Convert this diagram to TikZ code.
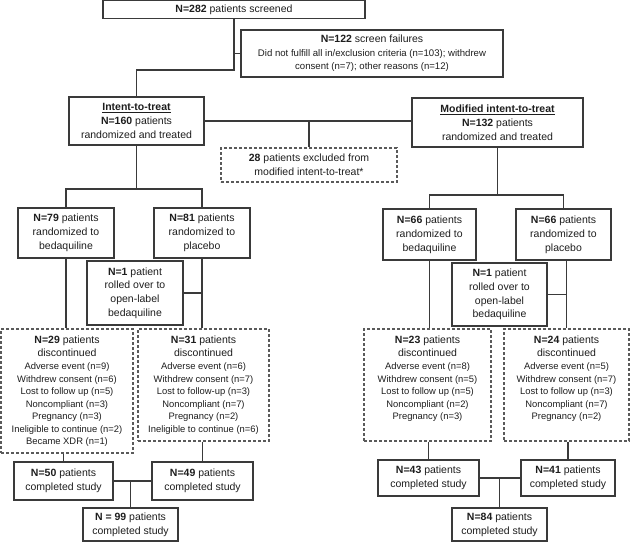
\documentclass[tikz,border=0pt]{standalone}
\usepackage{fontspec}
\setmainfont{Liberation Sans}
\definecolor{linec}{HTML}{3A3A3A}
\definecolor{dashc}{HTML}{5A5A5A}
\definecolor{txt}{HTML}{1E1E1E}
\newcommand\mainsz{\fontsize{10.5}{13.8}\selectfont}
\newcommand\smallsz{\fontsize{9.4}{12.5}\selectfont}
\newcommand\detsz{\fontsize{9.6}{13.5}\selectfont}
\tikzset{
 sz/.style 2 args={minimum width=#1, minimum height=#2},
 box/.style={draw=linec, line width=1.1pt, fill=white, align=center, inner sep=0pt, font=\mainsz, text=txt},
 dbox/.style={draw=dashc, line width=1.1pt, dash pattern=on 3pt off 2pt, fill=white, inner sep=0pt, align=center, font=\mainsz, text=txt},
 tx/.style={align=center, inner sep=0pt, font=\smallsz, text=txt, anchor=north},
 conn/.style={draw=linec, line width=1.1pt},
}
\begin{document}
\begin{tikzpicture}[x=1pt,y=-1pt]
\fill[white] (0,0) rectangle (630,542);
\useasboundingbox (0,0) rectangle (630,542);

% top
\node[box, sz={262pt}{18pt}] (top) at (234,9.5) {\textbf{N=282} patients screened};
\node[box, sz={262pt}{47pt}, font=\detsz] (scr) at (372,53.5) {\mainsz\textbf{N=122} screen failures\\ Did not fulfill all in/exclusion criteria (n=103); withdrew\\ consent (n=7); other reasons (n=12)};
\node[box, sz={135pt}{48pt}] (itt) at (136.5,121) {\underline{\textbf{Intent-to-treat}}\\ \textbf{N=160} patients\\ randomized and treated};
\node[box, sz={171pt}{49pt}] (mitt) at (497.5,122.5) {\underline{\textbf{Modified intent-to-treat}}\\ \textbf{N=132} patients\\ randomized and treated};
\node[dbox, sz={176pt}{34pt}] (excl) at (309,165) {\textbf{28} patients excluded from\\ modified intent-to-treat*};

% left arm
\node[box, sz={96pt}{50pt}] (b79) at (66,233) {\textbf{N=79} patients\\ randomized to\\ bedaquiline};
\node[box, sz={96pt}{50pt}] (p81) at (202,233) {\textbf{N=81} patients\\ randomized to\\ placebo};
\node[box, sz={96pt}{64pt}] (r1L) at (135,293) {\textbf{N=1} patient\\ rolled over to\\ open-label\\ bedaquiline};
\node[dbox, sz={132pt}{124pt}] (d29) at (67,391) {};
\node[tx] (t29) at ([yshift=-7pt]d29.north) {\mainsz\textbf{N=29} patients\\[1pt] \mainsz discontinued\\[0.5pt] Adverse event (n=9)\\ Withdrew consent (n=6)\\ Lost to follow up (n=5)\\ Noncompliant (n=3)\\ Pregnancy (n=3)\\ Ineligible to continue (n=2)\\ Became XDR (n=1)};
\node[dbox, sz={131pt}{112pt}] (d31) at (203.5,385) {};
\node[tx] (t31) at ([yshift=-7pt]d31.north) {\mainsz\textbf{N=31} patients\\[1pt] \mainsz discontinued\\[0.5pt] Adverse event (n=6)\\ Withdrew consent (n=7)\\ Lost to follow-up (n=3)\\ Noncompliant (n=7)\\ Pregnancy (n=2)\\ Ineligible to continue (n=6)};
\node[box, sz={99pt}{38pt}] (c50) at (63.5,481) {\textbf{N=50} patients\\ completed study};
\node[box, sz={101pt}{38pt}] (c49) at (202.5,481) {\textbf{N=49} patients\\ completed study};
\node[box, sz={95pt}{33pt}] (c99) at (130.5,524.5) {\textbf{N = 99} patients\\ completed study};

% right arm
\node[box, sz={93pt}{51pt}] (b66) at (429.5,234.5) {\textbf{N=66} patients\\ randomized to\\ bedaquiline};
\node[box, sz={95pt}{51pt}] (p66) at (563.5,234.5) {\textbf{N=66} patients\\ randomized to\\ placebo};
\node[box, sz={95pt}{63pt}] (r1R) at (499.5,294.5) {\textbf{N=1} patient\\ rolled over to\\ open-label\\ bedaquiline};
\node[dbox, sz={127pt}{112pt}] (d23) at (427.5,385) {};
\node[tx] (t23) at ([yshift=-7pt]d23.north) {\mainsz\textbf{N=23} patients\\[1pt] \mainsz discontinued\\[0.5pt] Adverse event (n=8)\\ Withdrew consent (n=5)\\ Lost to follow up (n=5)\\ Noncompliant (n=2)\\ Pregnancy (n=3)};
\node[dbox, sz={125pt}{112pt}] (d24) at (566.5,385) {};
\node[tx] (t24) at ([yshift=-7pt]d24.north) {\mainsz\textbf{N=24} patients\\[1pt] \mainsz discontinued\\[0.5pt] Adverse event (n=5)\\ Withdrew consent (n=7)\\ Lost to follow up (n=3)\\ Noncompliant (n=7)\\ Pregnancy (n=2)};
\node[box, sz={101pt}{36pt}] (c43) at (428.5,478) {\textbf{N=43} patients\\ completed study};
\node[box, sz={94pt}{36pt}] (c41) at (568,478) {\textbf{N=41} patients\\ completed study};
\node[box, sz={95pt}{33pt}] (c84) at (499.5,524.5) {\textbf{N=84} patients\\ completed study};

% connectors top
\draw[conn] (top.south) |- (itt.north |- 0,70) -- (itt.north);
\draw[conn] (top.south |- scr.west) -- (scr.west);
\draw[conn] (itt.east) -- (itt.east -| mitt.west);
\draw[conn] (excl.north |- itt.east) -- (excl.north);

% connectors left
\coordinate (lbr) at (136.5,189);
\draw[conn] (itt.south) -- (lbr);
\draw[conn] (b79.north) |- (lbr) -| (p81.north);
\draw[conn] (b79.south) -- (b79.south |- d29.north);
\draw[conn] (p81.south) -- (p81.south |- d31.north);
\draw[conn] (r1L.east) -- (r1L.east -| p81.south);
\draw[conn] (c50.north |- d29.south) -- (c50.north);
\draw[conn] (c49.north |- d31.south) -- (c49.north);
\draw[conn] (c50.east) -- (c49.west);
\draw[conn] (c99.north |- c50.east) -- (c99.north);

% connectors right
\coordinate (rbr) at (497.5,195);
\draw[conn] (mitt.south) -- (rbr);
\draw[conn] (b66.north) |- (rbr) -| (p66.north);
\draw[conn] (b66.south) -- (b66.south |- d23.north);
\draw[conn] (d24.north |- p66.south) -- (d24.north);
\draw[conn] (r1R.east) -- (r1R.east -| d24.north);
\draw[conn] (c43.north |- d23.south) -- (c43.north);
\draw[conn] (c41.north |- d24.south) -- (c41.north);
\draw[conn] (c43.east) -- (c41.west);
\draw[conn] (c84.north |- c43.east) -- (c84.north);
\end{tikzpicture}
\end{document}
